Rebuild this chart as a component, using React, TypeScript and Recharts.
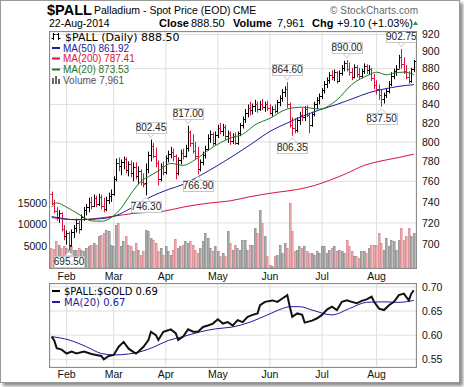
import React from 'react';
import { ComposedChart, Bar, Line, XAxis, YAxis, CartesianGrid, ReferenceDot, Cell } from 'recharts';

// daily bars, 24-Jan-2014 .. 22-Aug-2014 (index 0..146)
const opens = [
  748, 739, 731, 726, 729, 714, 708, 711, 700, 712, 715, 720, 714, 726, 732, 735, 740, 736, 744, 738,
  745, 736, 733, 742, 746, 748, 762, 778, 775, 779, 782, 771, 777, 768, 774, 765, 770, 759, 758, 772,
  787, 796, 786, 778, 762, 775, 769, 783, 788, 790, 785, 768, 781, 789, 786, 794, 810, 799, 791, 786,
  772, 779, 787, 793, 804, 808, 799, 807, 815, 811, 816, 806, 809, 801, 806, 799, 809, 818, 824, 831,
  836, 834, 838, 841, 835, 840, 837, 841, 836, 831, 835, 833, 843, 847, 854, 857, 840, 818, 815, 812,
  823, 829, 826, 835, 829, 818, 830, 840, 845, 849, 856, 863, 867, 873, 871, 876, 866, 875, 881, 886,
  880, 876, 871, 882, 874, 872, 877, 883, 878, 880, 869, 861, 857, 850, 846, 850, 855, 863, 872, 877,
  880, 893, 885, 877, 871, 866, 879.4,
];
const highs = [
  750, 742, 735, 732, 730, 718, 713, 712, 714, 718, 724, 722, 728, 735, 738, 744, 745, 747, 746, 748,
  747, 744, 745, 749, 752, 765, 783, 784, 782, 785, 784, 780, 781, 779, 779, 775, 772, 768, 778, 790,
  802.45, 799, 794, 781, 778, 780, 786, 791, 795, 793, 787, 784, 792, 793, 797, 817, 812, 808, 800, 795,
  782, 790, 796, 808, 812, 810, 811, 818, 820, 819, 818, 812, 811, 809, 810, 811, 820, 827, 835, 840,
  843, 841, 845, 843, 844, 846, 843, 844, 840, 838, 840, 845, 850, 857, 860, 864.6, 842, 826, 825, 826,
  832, 836, 838, 839, 831, 832, 843, 848, 852, 858, 866, 870, 876, 878, 879, 877, 878, 884, 889, 890,
  887, 881, 885, 884, 881, 880, 886, 885, 884, 881, 874, 867, 862, 856, 853, 858, 866, 876, 880, 884,
  896, 902.75, 893, 884, 877, 881, 890,
];
const lows = [
  737, 729, 722, 720, 712, 704, 700, 695.5, 698, 706, 711, 710, 713, 722, 727, 730, 733, 735, 735, 736,
  733, 730, 731, 738, 740, 746, 760, 770, 766, 772, 768, 765, 764, 760, 762, 757, 756, 754, 746.3, 768,
  780, 783, 774, 756, 760, 766, 767, 779, 783, 780, 762, 766, 777, 782, 784, 790, 795, 788, 782, 766.9,
  770, 776, 783, 791, 799, 796, 797, 804, 808, 806, 802, 799, 797, 798, 797, 797, 806, 814, 820, 826,
  828, 829, 832, 831, 833, 834, 832, 833, 829, 827, 830, 831, 838, 843, 848, 836, 815, 806.35, 809, 810,
  818, 822, 822, 826, 809, 816, 827, 835, 840, 846, 852, 858, 863, 867, 866, 863, 865, 872, 877, 877,
  872, 867, 869, 870, 868, 869, 874, 874, 873, 866, 857, 851, 845, 837.5, 841, 847, 852, 860, 868, 872,
  880, 880, 874, 868, 863, 864, 876,
];
const closes = [
  739, 731, 726, 729, 714, 708, 711, 699, 712, 715, 720, 714, 726, 732, 735, 740, 736, 744, 738, 745,
  736, 733, 742, 746, 748, 762, 778, 775, 779, 782, 771, 777, 768, 774, 765, 770, 759, 757, 772, 787,
  796, 786, 778, 762, 775, 769, 783, 788, 790, 785, 768, 781, 789, 786, 794, 810, 799, 791, 786, 772,
  779, 787, 793, 804, 808, 799, 807, 815, 811, 816, 806, 809, 801, 806, 799, 809, 818, 824, 831, 836,
  834, 838, 841, 835, 840, 837, 841, 836, 831, 835, 833, 843, 847, 854, 857, 840, 818, 815, 812, 823,
  829, 826, 835, 829, 818, 830, 840, 845, 849, 856, 863, 867, 873, 871, 876, 866, 875, 881, 886, 880,
  876, 871, 882, 874, 872, 877, 883, 878, 880, 869, 861, 857, 850, 846, 850, 855, 863, 872, 877, 880,
  893, 885, 877, 871, 866, 879.4, 888.5,
];
const firstPrevClose = 748;
const volumes = [
  4600, 4380, 6140, 5380, 4600, 5000, 4600, 4380, 5000, 4070, 4220, 4600, 4070, 3840, 4600, 5000, 5380, 5760, 5380, 7300,
  7680, 8060, 8830, 8450, 5380, 5000, 9980, 10370, 5000, 6140, 7300, 5380, 5000, 3840, 5760, 4220, 3070, 3840, 8830, 8450,
  6900, 6530, 5760, 3840, 4600, 3070, 5000, 3840, 3070, 4220, 6680, 4600, 5000, 5380, 6140, 5760, 6140, 5380, 4220, 3460,
  4600, 6140, 8060, 6900, 4600, 3840, 5000, 3840, 2690, 3460, 2690, 8450, 5760, 4220, 5380, 4600, 4220, 6530, 6530, 4220,
  5380, 5380, 9220, 8060, 13440, 10370, 7300, 2690, 770, 380, 2690, 3070, 5380, 3460, 5760, 4610, 14980, 8450, 3840, 4220,
  4990, 4610, 4990, 3840, 3460, 3460, 3070, 3840, 3460, 4990, 4990, 3460, 4220, 4610, 4990, 3840, 4220, 3840, 3460, 6530,
  4990, 3840, 2690, 2690, 2300, 3840, 3840, 3460, 4610, 5380, 5380, 5380, 8060, 5760, 4220, 6910, 4990, 6530, 6140, 4220,
  6530, 9220, 6530, 7300, 9220, 7300, 7961,
];

// moving averages: [day index, value]
const ma20Pts = [
  [0, 735], [2, 739], [6, 735], [11, 728], [16, 722], [20, 721.6], [24, 725], [28, 734], [32, 748], [36, 760],
  [40, 766], [44, 772], [48, 778], [53, 776], [58, 782], [64, 793], [72, 804], [77, 808], [82, 818], [88, 825],
  [95, 835], [101, 837], [108, 835], [115, 845], [121, 862], [128, 873], [131, 876], [135, 873], [138, 875],
  [142, 876], [146, 873.53],
];
const ma50Pts = [
  [0, 726], [10, 723], [20, 724], [26, 727], [32, 734], [40, 745], [47, 752], [53, 757], [60, 766], [67, 776],
  [74, 787], [80, 797], [88, 811], [95, 820], [101, 827], [108, 834], [115, 840], [122, 847], [128, 853],
  [134, 857], [140, 860], [146, 861.92],
];
const ma200Pts = [
  [0, 725], [10, 723], [24, 726], [33, 729], [45, 731], [53, 735], [64, 739], [72, 741], [80, 745], [90, 749],
  [99, 752], [106, 756], [112, 761], [119, 768], [126, 776], [132, 780], [140, 784], [146, 787.41],
];

// $PALL:$GOLD ratio and its MA(20)
const ratioPts = [
  [0, .597], [1, .589], [2, .573], [4, .570], [6, .562], [8, .566], [10, .562], [13, .566], [16, .561], [18, .559],
  [20, .557], [21, .550], [23, .557], [25, .559], [27, .576], [29, .586], [31, .572], [33, .565], [34, .562],
  [35, .566], [37, .576], [39, .590], [40, .607], [42, .600], [43, .590], [45, .607], [47, .610], [48, .612],
  [50, .604], [51, .590], [53, .597], [55, .612], [57, .607], [59, .607], [61, .617], [63, .620], [65, .624],
  [67, .633], [69, .624], [71, .627], [73, .620], [75, .631], [77, .627], [79, .638], [81, .642], [83, .645],
  [84, .662], [86, .669], [89, .672], [91, .669], [93, .676], [95, .683], [96, .659], [97, .638], [99, .645],
  [101, .642], [102, .626], [105, .630], [107, .635], [109, .642], [111, .653], [113, .659], [115, .652],
  [117, .669], [119, .672], [121, .669], [123, .666], [125, .671], [127, .674], [129, .680], [130, .669],
  [132, .655], [134, .652], [136, .662], [138, .669], [140, .683], [142, .686], [144, .672], [145, .686], [146, .693],
];
const ratioMaPts = [
  [0, .597], [7, .590], [14, .576], [20, .562], [25, .559], [31, .561], [36, .566], [41, .575], [47, .589],
  [53, .597], [60, .607], [66, .613], [73, .617], [80, .627], [87, .642], [93, .655], [96, .659], [100, .659],
  [105, .652], [113, .642], [120, .655], [127, .668], [134, .669], [140, .668], [146, .672],
];

const monthTicks = [6, 25, 46, 67, 88, 109, 131];
const monthLabels = ['Feb', 'Mar', 'Apr', 'May', 'Jun', 'Jul', 'Aug'];
const priceTicks = [700, 720, 740, 760, 780, 800, 820, 840, 860, 880, 900, 920];
const volTicks = [5000, 10000, 15000];
const ratioTicks = [0.55, 0.6, 0.65, 0.7];

// swing high / low callouts
const callouts = [
  { i: 7, v: 695.5, hi: false }, { i: 38, v: 746.3, hi: false }, { i: 40, v: 802.45, hi: true },
  { i: 55, v: 817.0, hi: true }, { i: 59, v: 766.9, hi: false }, { i: 95, v: 864.6, hi: true },
  { i: 97, v: 806.35, hi: false }, { i: 119, v: 890.0, hi: true }, { i: 133, v: 837.5, hi: false },
  { i: 141, v: 902.75, hi: true },
];

const RED = '#dc143c';
const NAVY = '#1c1c9c';
const GREEN = '#1f7a1f';
const FONT = 'Arial, "Liberation Sans", sans-serif';
const XDOM: [number, number] = [-0.7, 146.9];

const rows = closes.map((c, i) => ({
  i,
  o: opens[i],
  h: highs[i],
  l: lows[i],
  c,
  hl: [lows[i], highs[i]],
  up: c >= (i === 0 ? firstPrevClose : closes[i - 1]),
  vol: volumes[i],
  ma20: null as number | null,
  ma50: null as number | null,
  ma200: null as number | null,
}));
ma20Pts.forEach(([i, v]) => (rows[i].ma20 = v));
ma50Pts.forEach(([i, v]) => (rows[i].ma50 = v));
ma200Pts.forEach(([i, v]) => (rows[i].ma200 = v));

const ratioRows = closes.map((_, i) => ({ i, r: null as number | null, rma: null as number | null }));
ratioPts.forEach(([i, v]) => (ratioRows[i].r = v));
ratioMaPts.forEach(([i, v]) => (ratioRows[i].rma = v));

const OhlcShape = (props: any) => {
  const { x, y, width, height, payload } = props;
  if (x == null || y == null || height == null) return null;
  const top = Math.min(y, y + height);
  const bot = Math.max(y, y + height);
  const lh = Math.log(payload.h);
  const ll = Math.log(payload.l);
  const toY = (v: number) => top + ((bot - top) * (lh - Math.log(v))) / (lh - ll || 1);
  const cx = Math.round(x + width / 2) + 0.5;
  const col = payload.up ? '#000' : RED;
  const yo = Math.round(toY(payload.o)) + 0.5;
  const yc = Math.round(toY(payload.c)) + 0.5;
  return (
    <g stroke={col} strokeWidth={1} fill="none">
      <line x1={cx} x2={cx} y1={top} y2={bot} />
      <line x1={cx - 2} x2={cx} y1={yo} y2={yo} />
      <line x1={cx} x2={cx + 2} y1={yc} y2={yc} />
    </g>
  );
};

// volume bar snapped to whole pixels so it reads as a solid column with an edge
const VolShape = (props: any) => {
  const { x, y, width, height, payload } = props;
  if (x == null || y == null || height == null || height <= 0) return null;
  const cx = Math.round(x + width / 2);
  const top = Math.round(y);
  const bot = Math.round(y + height);
  const up = payload.up;
  return (
    <rect
      x={cx - 1 + 0.5} y={top + 0.5} width={1.6} height={Math.max(bot - top - 1, 0)}
      fill={up ? '#b4b4b4' : '#f0b4b8'} stroke={up ? '#8e8e8e' : '#d9868e'} strokeWidth={0.8}
    />
  );
};

const Callout = (props: any) => {
  const { cx, cy, label, hi } = props;
  if (cx == null || cy == null) return null;
  const w = 30;
  const h = 11;
  const bx = Math.round(cx - w / 2) + 0.5;
  const tip = hi ? cy - 2 : cy + 2;
  const edge = hi ? cy - 7 : cy + 6;
  const by = hi ? Math.round(edge - h) + 0.5 : Math.round(edge) + 0.5;
  return (
    <g>
      <path d={`M${cx - 4},${edge} L${cx},${tip} L${cx + 4},${edge}`} fill="#fff" stroke="#c8c8c8" />
      <rect x={bx} y={by} width={w} height={h} fill="#fff" stroke="#c8c8c8" />
      <text x={cx} y={by + 8.5} textAnchor="middle" fontSize={10} fontFamily={FONT} fill="#222">
        {label}
      </text>
    </g>
  );
};

const tickStyle = { fontSize: 10.5, fill: '#111', fontFamily: FONT };

export default function App() {
  return (
    <div style={{ position: 'absolute', left: 0, top: 0, width: 464, height: 387, background: '#fff', overflow: 'hidden' }}>
      <div
        style={{
          position: 'absolute', left: 0, top: 0, width: 458, height: 381,
          border: '1px solid #9a9a9a', boxShadow: '3px 3px 3px rgba(0,0,0,0.45)', background: '#fff',
        }}
      />
      <div style={{ position: 'absolute', left: 0, top: 0 }}>
        <ComposedChart width={464} height={288} data={rows} margin={{ top: 32, right: 4, bottom: 0, left: 5 }}>
          <CartesianGrid stroke="#dedede" yAxisId="price" />
          <XAxis
            dataKey="i" type="number" domain={XDOM} allowDataOverflow ticks={monthTicks} interval={0}
            tickFormatter={(v: number) => monthLabels[monthTicks.indexOf(v)] || ''}
            axisLine={false} tickLine={false} tickSize={0} tickMargin={5} height={20} tick={tickStyle}
          />
          <XAxis xAxisId="ohlc" dataKey="i" type="number" domain={XDOM} allowDataOverflow hide />
          <YAxis
            yAxisId="price" orientation="right" scale="log" domain={[679, 923]} allowDataOverflow
            ticks={priceTicks} width={44} axisLine={false} tickLine={false} tickSize={0} tickMargin={6} tick={tickStyle}
          />
          <YAxis
            yAxisId="vol" orientation="left" domain={[0, 54400]} allowDataOverflow ticks={volTicks}
            width={45} axisLine={false} tickLine={false} tickSize={0} tickMargin={3} tick={tickStyle}
          />
          <Bar yAxisId="vol" dataKey="vol" barSize={2} shape={VolShape} isAnimationActive={false}>
            {rows.map((r) => (
              <Cell key={r.i} fill={r.up ? '#b4b4b4' : '#f0b4b8'} />
            ))}
          </Bar>
          <Line yAxisId="price" dataKey="ma200" stroke={RED} strokeWidth={1} dot={false} connectNulls type="monotone" isAnimationActive={false} />
          <Line yAxisId="price" dataKey="ma50" stroke={NAVY} strokeWidth={1} dot={false} connectNulls type="monotone" isAnimationActive={false} />
          <Line yAxisId="price" dataKey="ma20" stroke={GREEN} strokeWidth={1} dot={false} connectNulls type="monotone" isAnimationActive={false} />
          <Bar xAxisId="ohlc" yAxisId="price" dataKey="hl" barSize={3} shape={OhlcShape} isAnimationActive={false} />
          {callouts.map((c) => (
            <ReferenceDot
              key={c.i} x={c.i} y={c.v} yAxisId="price" r={0}
              shape={(p: any) => <Callout {...p} label={c.v.toFixed(2)} hi={c.hi} />}
            />
          ))}
        </ComposedChart>
      </div>
      <div style={{ position: 'absolute', left: 0, top: 270 }}>
        <ComposedChart width={464} height={117} data={ratioRows} margin={{ top: 14, right: 4, bottom: 0, left: 50 }}>
          <CartesianGrid stroke="#dedede" />
          <XAxis
            dataKey="i" type="number" domain={XDOM} allowDataOverflow ticks={monthTicks} interval={0}
            tickFormatter={(v: number) => monthLabels[monthTicks.indexOf(v)] || ''}
            axisLine={false} tickLine={false} tickSize={0} tickMargin={4} height={20} tick={tickStyle}
          />
          <YAxis
            orientation="right" domain={[0.534, 0.706]} allowDataOverflow ticks={ratioTicks}
            tickFormatter={(v: number) => v.toFixed(2)}
            width={44} axisLine={false} tickLine={false} tickSize={0} tickMargin={6} tick={tickStyle}
          />
          <Line dataKey="rma" stroke={NAVY} strokeWidth={1} dot={false} connectNulls type="monotone" isAnimationActive={false} />
          <Line dataKey="r" stroke="#111" strokeWidth={2} dot={false} connectNulls type="linear" isAnimationActive={false} />
        </ComposedChart>
      </div>
      {/* panel borders */}
      <div style={{ position: 'absolute', left: 49, top: 31, width: 366, height: 236, border: '1px solid #8c8c8c', pointerEvents: 'none' }} />
      <div style={{ position: 'absolute', left: 49, top: 283, width: 366, height: 83, border: '1px solid #8c8c8c', pointerEvents: 'none' }} />
      <svg width={464} height={387} style={{ position: 'absolute', left: 0, top: 0, pointerEvents: 'none' }} fontFamily={FONT}>
        <text x={47} y={15} fontSize={14.5} fontWeight="bold" fill="#000">$PALL</text>
        <text x={94} y={14} fontSize={10.5} fill="#000">Palladium - Spot Price (EOD)</text>
        <text x={233} y={14} fontSize={10.5} fill="#000">CME</text>
        <text x={330} y={14} fontSize={10} fill="#666" textLength={88}>© StockCharts.com</text>
        <text x={49} y={27} fontSize={10.5} fill="#000">22-Aug-2014</text>
        <text y={27} fontSize={11} fill="#000">
          <tspan x={159} fontWeight="bold">Close</tspan>
          <tspan x={191}>888.50</tspan>
          <tspan x={233} fontWeight="bold">Volume</tspan>
          <tspan x={277}>7,961</tspan>
          <tspan x={312} fontWeight="bold">Chg</tspan>
          <tspan x={337}>+9.10 (+1.03%)</tspan>
        </text>
        <path d="M413,25 L415.5,21 L418,25 Z" fill="#2e9a2e" />

        {/* main legend */}
        <g stroke="#000" strokeWidth={1}>
          <line x1={53.5} x2={53.5} y1={33} y2={40} />
          <line x1={51.5} x2={53.5} y1={38.5} y2={38.5} />
          <line x1={53.5} x2={55.5} y1={34.5} y2={34.5} />
          <line x1={58.5} x2={58.5} y1={33} y2={40} />
          <line x1={56.5} x2={58.5} y1={34.5} y2={34.5} />
          <line x1={58.5} x2={60.5} y1={38.5} y2={38.5} />
        </g>
        <text x={65} y={40.5} fontSize={11} fontFamily='"DejaVu Sans", sans-serif' fill="#000">$PALL (Daily) 888.50</text>
        <rect x={52} y={47} width={8} height={2} fill={NAVY} />
        <text x={63} y={51.5} fontSize={10} fill={NAVY}>MA(50) 861.92</text>
        <rect x={52} y={57.5} width={8} height={2} fill={RED} />
        <text x={63} y={62} fontSize={10} fill={RED}>MA(200) 787.41</text>
        <rect x={52} y={68.5} width={8} height={2} fill={GREEN} />
        <text x={63} y={73} fontSize={10} fill={GREEN}>MA(20) 873.53</text>
        <g fill="#666">
          <rect x={52} y={78} width={2} height={6} />
          <rect x={55} y={76} width={2} height={8} />
          <rect x={58} y={79} width={2} height={5} />
        </g>
        <text x={63} y={84} fontSize={10} fill="#555">Volume 7,961</text>

        {/* ratio legend */}
        <rect x={52} y={290} width={8} height={2} fill="#000" />
        <text x={64} y={294.5} fontSize={10} fontFamily='"DejaVu Sans", sans-serif' fill="#000">$PALL:$GOLD 0.69</text>
        <rect x={52} y={301} width={8} height={2} fill={NAVY} />
        <text x={64} y={305.5} fontSize={10} fontFamily='"DejaVu Sans", sans-serif' fill={NAVY}>MA(20) 0.67</text>
      </svg>
    </div>
  );
}
